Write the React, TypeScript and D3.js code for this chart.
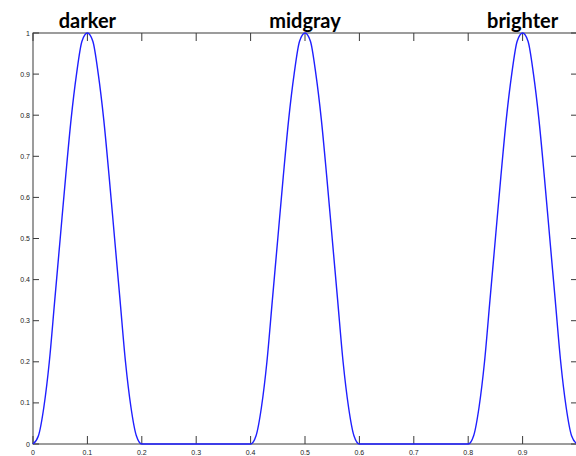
import * as d3 from "d3";

const bumpOffsets = [-0.1, -0.09, -0.08, -0.07, -0.06, -0.05, -0.04, -0.03, -0.02, -0.01, 0, 0.01, 0.02, 0.03, 0.04, 0.05, 0.06, 0.07, 0.08, 0.09, 0.1];
const darkerY = [0, 0.02, 0.09, 0.2, 0.35, 0.5, 0.65, 0.79, 0.9, 0.98, 1, 0.98, 0.9, 0.79, 0.65, 0.5, 0.35, 0.2, 0.09, 0.02, 0];
const midgrayY = [0, 0.02, 0.09, 0.2, 0.35, 0.5, 0.65, 0.79, 0.9, 0.98, 1, 0.98, 0.9, 0.79, 0.65, 0.5, 0.35, 0.2, 0.09, 0.02, 0];
const brighterY = [0, 0.02, 0.09, 0.2, 0.35, 0.5, 0.65, 0.79, 0.9, 0.98, 1, 0.98, 0.9, 0.79, 0.65, 0.5, 0.35, 0.2, 0.09, 0.02, 0];
const peakCenters = [0.1, 0.5, 0.9];
const peakLabels = ["darker", "midgray", "brighter"];
const xTicks = [0, 0.1, 0.2, 0.3, 0.4, 0.5, 0.6, 0.7, 0.8, 0.9, 1];
const xTickLabels = ["0", "0.1", "0.2", "0.3", "0.4", "0.5", "0.6", "0.7", "0.8", "0.9", ""];
const yTicks = [0, 0.1, 0.2, 0.3, 0.4, 0.5, 0.6, 0.7, 0.8, 0.9, 1];
const yTickLabels = ["0", "0.1", "0.2", "0.3", "0.4", "0.5", "0.6", "0.7", "0.8", "0.9", "1"];

const width = 576;
const height = 456;
const left = 33;
const right = 577;
const top = 33;
const bottom = 444;
const axisColor = "#3a3a3a";

function App() {
  const x = d3.scaleLinear().domain([0, 1]).range([left, right]);
  const y = d3.scaleLinear().domain([0, 1]).range([bottom, top]);

  // one continuous line: flat at 0 between the peaks
  const series = [darkerY, midgrayY, brighterY];
  const points: [number, number][] = [];
  peakCenters.forEach((c, i) => {
    bumpOffsets.forEach((o, j) => points.push([c + o, series[i][j]]));
  });
  const full: [number, number][] = [[0, 0], ...points, [1, 0]];

  const line = d3
    .line<[number, number]>()
    .x((d) => x(d[0]))
    .y((d) => y(d[1]))
    .curve(d3.curveMonotoneX);

  return (
    <div style={{ position: "absolute", left: 0, top: 0 }}>
      <svg width={width} height={height} style={{ display: "block", background: "#fff" }}>
        <rect x={left} y={top} width={right - left} height={bottom - top} fill="none" stroke={axisColor} strokeWidth={1} />
        {xTicks.map((t, i) => (
          <g key={"x" + t}>
            <line x1={x(t)} x2={x(t)} y1={bottom} y2={bottom - 8} stroke={axisColor} />
            <line x1={x(t)} x2={x(t)} y1={top} y2={top + 8} stroke={axisColor} />
            <text x={x(t)} y={455} fontSize={7} fontFamily="Liberation Sans, Arial" textAnchor="middle" fill="#222">
              {xTickLabels[i]}
            </text>
          </g>
        ))}
        {yTicks.map((t, i) => (
          <g key={"y" + t}>
            <line x1={left} x2={left + 6} y1={y(t)} y2={y(t)} stroke={axisColor} />
            <line x1={right} x2={right - 6} y1={y(t)} y2={y(t)} stroke={axisColor} />
            <text x={30} y={y(t) + 2.5} fontSize={7} fontFamily="Liberation Sans, Arial" textAnchor="end" fill="#222">
              {yTickLabels[i]}
            </text>
          </g>
        ))}
        <path d={line(full) ?? ""} fill="none" stroke="#1f1fff" strokeWidth={1.4} />
        {peakCenters.map((c, i) => (
          <text
            key={peakLabels[i]}
            x={x(c)}
            y={28}
            textAnchor="middle"
            fontSize={20}
            fontWeight="bold"
            fontFamily="Lato, Open Sans, sans-serif"
            fill="#000"
          >
            {peakLabels[i]}
          </text>
        ))}
      </svg>
    </div>
  );
}

export default App;
